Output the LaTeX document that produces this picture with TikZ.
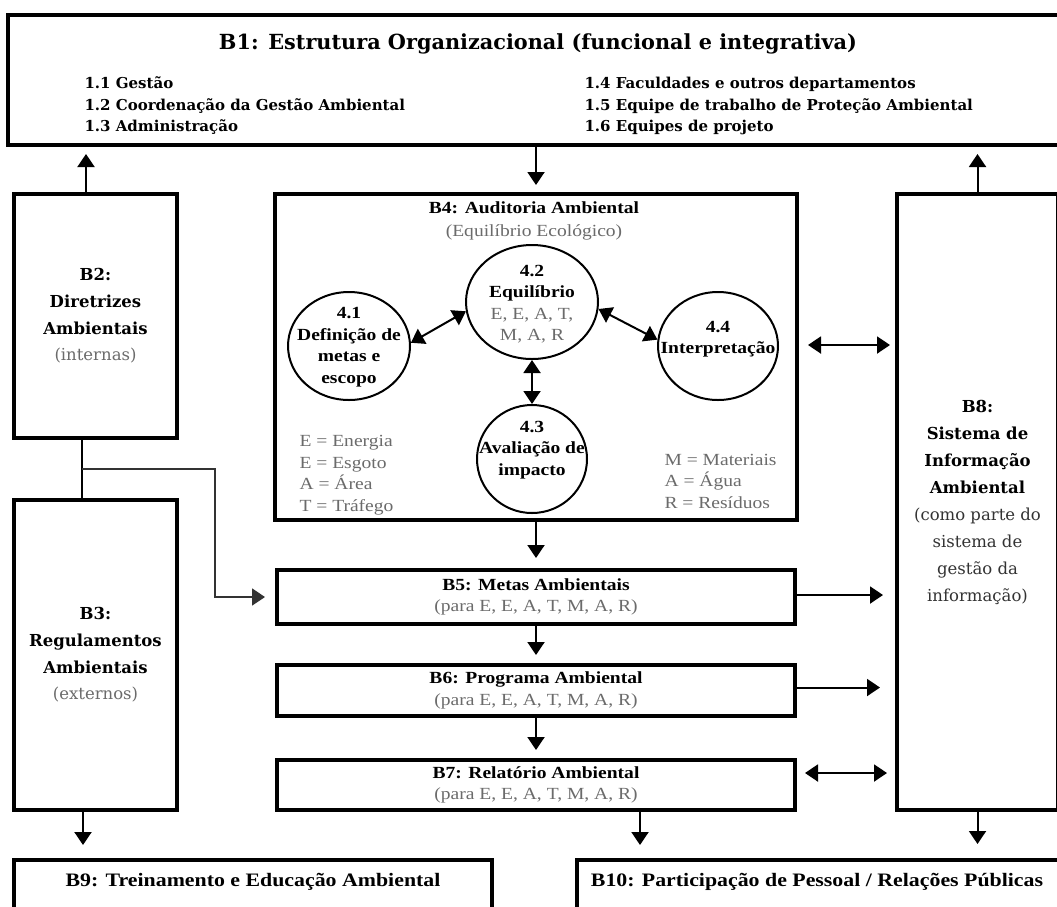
\documentclass[tikz,border=0pt]{standalone}
\usepackage{fontspec}
\setmainfont{DejaVu Serif}
\newfontfamily\tms[FakeStretch=1.15]{Liberation Serif}
\usetikzlibrary{arrows.meta,calc,shapes.geometric}
\definecolor{txtgray}{gray}{0.42}
\definecolor{softblack}{gray}{0.2}
\newcommand{\greytxt}[1]{{\mdseries\color{txtgray}#1}}
\newcommand{\plaintxt}[1]{{\mdseries\color{softblack}#1}}

\begin{document}
\begin{tikzpicture}[x=1pt,y=-1pt,
  box/.style={draw,line width=4pt,inner sep=0pt,anchor=north west,align=center},
  ell/.style={draw,ellipse,line width=2pt,inner sep=0pt},
  arr/.style={line width=2pt,-{Triangle[length=13pt,width=17pt]}},
  dblarr/.style={line width=2pt,{Triangle[length=13pt,width=17pt]}-{Triangle[length=13pt,width=17pt]}},
  conn/.style={line width=2pt},
  thinarr/.style={line width=1.8pt,draw=black!80,-{Triangle[length=13pt,width=17pt]}},
  headB/.style={font=\bfseries\fontsize{20.8}{24}\selectfont},
  itemB/.style={font=\bfseries\fontsize{15}{21.5}\selectfont,align=left,anchor=west},
  sideB/.style={font=\bfseries\fontsize{16.5}{26.7}\selectfont},
  tmsB/.style={font=\tms\bfseries\fontsize{17}{21.5}\selectfont,align=center},
  tmsR/.style={font=\tms\fontsize{17}{21.5}\selectfont,text=txtgray,align=left,anchor=west},
  footB/.style={font=\tms\bfseries\fontsize{19}{23}\selectfont},
]
\useasboundingbox (0,0) rectangle (1057,906);
\fill[white] (0,0) rectangle (1057,906);
\clip (0,0) rectangle (1057,906);

% B1: organisational structure
\node[box,minimum width=1056pt,minimum height=130pt] (b1) at (6,13) {};
\node[headB] (b1t) at (538,44) {B1: Estrutura Organizacional (funcional e integrativa)};
\node[itemB] (b1l) at (81,106) {1.1 Gestão\\1.2 Coordenação da Gestão Ambiental\\1.3 Administração};
\node[itemB] (b1r) at (581,106) {1.4 Faculdades e outros departamentos\\1.5 Equipe de trabalho de Proteção Ambiental\\1.6 Equipes de projeto};

% B2, B3: guidelines and regulations
\node[box,sideB,minimum width=163pt,minimum height=244pt] (b2) at (12,192)
  {B2:\\Diretrizes\\Ambientais\\\greytxt{(internas)}};
\node[box,sideB,minimum width=163pt,minimum height=310pt] (b3) at (12,498)
  {B3:\\Regulamentos\\Ambientais\\\greytxt{(externos)}};

% B4: environmental audit
\node[box,minimum width=522pt,minimum height=326pt] (b4) at (273,192) {};
\node[tmsB] (b4t) at (534,208) {B4: Auditoria Ambiental};
\node[tmsR,anchor=center] (b4s) at (534,232) {(Equilíbrio Ecológico)};

\node[ell,minimum width=122pt,minimum height=108pt] (e41) at (349,346) {};
\node[ell,minimum width=132pt,minimum height=114pt] (e42) at (532,302) {};
\node[ell,minimum width=110pt,minimum height=108pt] (e43) at (532,459) {};
\node[ell,minimum width=120pt,minimum height=108pt] (e44) at (718,346) {};
\node[tmsB] (t41) at (349,347) {4.1\\Definição de\\metas e\\escopo};
\node[tmsB] (t42) at (532,304) {4.2\\Equilíbrio\\\greytxt{E, E, A, T,}\\\greytxt{M, A, R}};
\node[tmsB] (t43) at (532,450) {4.3\\Avaliação de\\impacto};
\node[tmsB] (t44) at (718,339) {4.4\\Interpretação};

\draw[dblarr] (e41.3) -- (e42.188);
\draw[dblarr] (e42.-6) -- (e44.174);
\draw[dblarr] (e42.south) -- (e43.north);

\node[tmsR] (leg1) at (296,475) {E = Energia\\E = Esgoto\\A = Área\\T = Tráfego};
\node[tmsR] (leg2) at (661,481) {M = Materiais\\A = Água\\R = Resíduos};

% B5 - B7: goals, programme, report
\node[box,tmsB,minimum width=518pt,minimum height=54pt] (b5) at (275,568)
  {B5: Metas Ambientais\\\greytxt{(para E, E, A, T, M, A, R)}};
\node[box,tmsB,minimum width=518pt,minimum height=51pt] (b6) at (275,663)
  {B6: Programa Ambiental\\\greytxt{(para E, E, A, T, M, A, R)}};
\node[box,tmsB,minimum width=518pt,minimum height=50pt] (b7) at (275,758)
  {B7: Relatório Ambiental\\\greytxt{(para E, E, A, T, M, A, R)}};

% B8: information system
\node[box,sideB,font=\bfseries\fontsize{16.5}{27}\selectfont,minimum width=161pt,minimum height=616pt] (b8) at (895,192)
  {B8:\\Sistema de\\Informação\\Ambiental\\\plaintxt{(como parte do}\\\plaintxt{sistema de}\\\plaintxt{gestão da}\\\plaintxt{informação)}};

% B9, B10: training and participation
\node[box,minimum width=478pt,minimum height=80pt] (b9) at (12,858) {};
\node[footB] (b9t) at (253,882) {B9: Treinamento e Educação Ambiental};
\node[box,minimum width=500pt,minimum height=80pt] (b10) at (575,858) {};
\node[footB] (b10t) at (817,882) {B10: Participação de Pessoal / Relações Públicas};

% connectors to B1
\draw[arr,shorten >=7pt] ([xshift=-9.5pt]b2.north) -- ([xshift=-9.5pt]b2.north |- b1.south);
\draw[arr,shorten >=7pt] (b1.south -| b4.north) -- (b4.north);
\draw[arr,shorten >=7pt] (b8.north) -- (b8.north |- b1.south);

% B2 joins B3, branch to B5
\coordinate (jn) at ([xshift=-13.5pt]b2.south);
\coordinate (js) at ($(jn)!0.5!(jn |- b3.north)$);
\draw[conn] (jn) -- (jn |- b3.north);
\draw[thinarr,shorten >=10pt] (js) -- ++(133,0) |- (b5.west);

% main chain
\draw[arr,shorten >=10pt] (b4.south) -- (b5.north);
\draw[arr,shorten >=8pt] (b5.south) -- (b6.north);
\draw[arr,shorten >=8pt] (b6.south) -- (b7.north);

% links with B8
\draw[dblarr,shorten <=9pt,shorten >=5pt] ([yshift=12pt]b4.east) -- ([yshift=12pt]b4.east -| b8.west);
\draw[arr,shorten >=12pt] ([yshift=2pt]b5.east) -- ([yshift=2pt]b5.east -| b8.west);
\draw[arr,shorten >=15pt] ([yshift=3pt]b6.east) -- ([yshift=3pt]b6.east -| b8.west);
\draw[dblarr,shorten <=8pt,shorten >=8pt] ([yshift=12pt]b7.east) -- ([yshift=12pt]b7.east -| b8.west);

% connectors to B9, B10
\draw[arr,shorten >=13pt] ([xshift=-12.5pt]b3.south) -- ([xshift=-12.5pt]b3.south |- b9.north);
\draw[arr,shorten >=13pt] ([xshift=104pt]b7.south) -- ([xshift=104pt]b7.south |- b10.north);
\draw[arr,shorten >=14pt] (b8.south) -- (b8.south |- b10.north);
\end{tikzpicture}
\end{document}
